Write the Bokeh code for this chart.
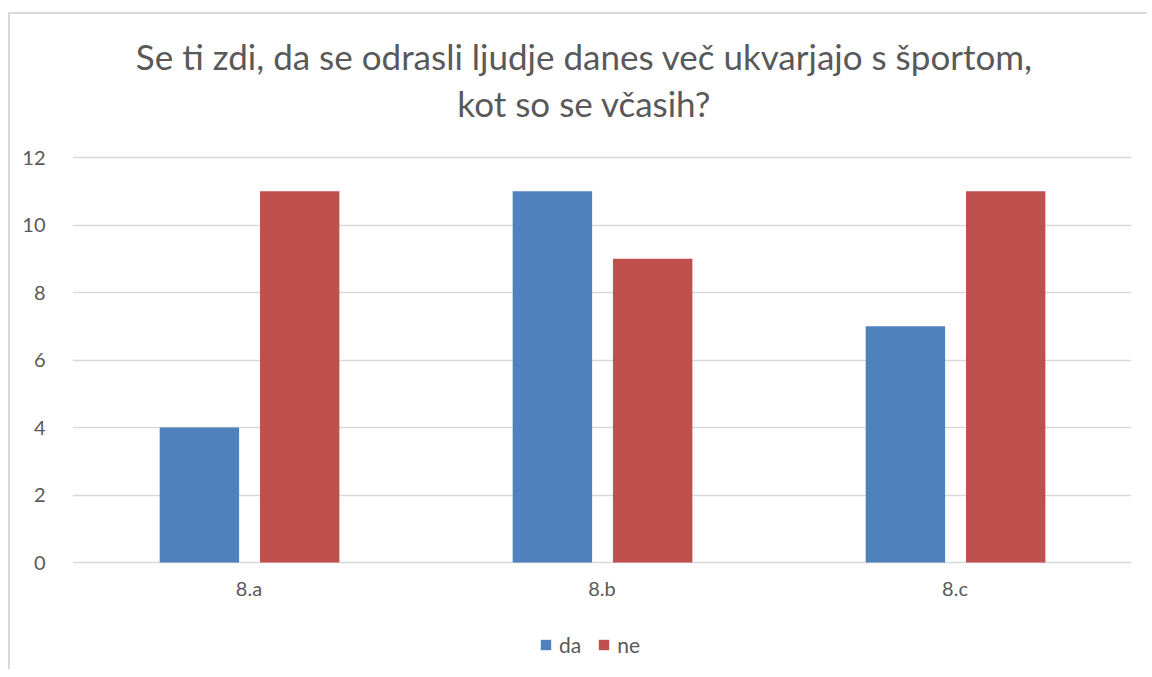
from bokeh.plotting import figure
from bokeh.models import ColumnDataSource, FactorRange, Range1d, FixedTicker, Legend, LegendItem, Label
from bokeh.core.properties import value
from bokeh.transform import dodge
from bokeh.embed import file_html
from bokeh.resources import INLINE

categories = ["8.a", "8.b", "8.c"]
da = [4, 11, 7]
ne = [11, 9, 11]
y_ticks = [0, 2, 4, 6, 8, 10, 12]
title_lines = ["Se ti zdi, da se odrasli ljudje danes več ukvarjajo s športom,", "kot so se včasih?"]
series_names = ["da", "ne"]

TEXT = "#595959"
GRID = "#d9d9d9"
FONT = "Lato"

source = ColumnDataSource(dict(cats=categories, da=da, ne=ne))

# The frame spans the whole chart area so title, category labels and legend are drawn inside it.
p = figure(x_range=FactorRange(*categories), y_range=Range1d(-3.17, 16.237),
           frame_width=1059, frame_height=655, output_backend="svg", toolbar_location=None,
           min_border_left=62, min_border_right=16, min_border_top=0, min_border_bottom=0)
p.styles = {"margin-left": "8px", "margin-top": "12px",
            "border-left": "2px solid #d9d9d9", "border-top": "2px solid #d9d9d9"}
p.title.visible = False
p.outline_line_color = None
p.background_fill_color = "white"
p.border_fill_color = "white"

r1 = p.vbar(x=dodge("cats", -0.1405, range=p.x_range), top="da", width=0.225, source=source,
            fill_color="#4F81BD", line_color=None)
r2 = p.vbar(x=dodge("cats", 0.1436, range=p.x_range), top="ne", width=0.225, source=source,
            fill_color="#C0504D", line_color=None)

p.xgrid.grid_line_color = None
p.ygrid.grid_line_color = GRID
p.ygrid.grid_line_width = 1.3
p.ygrid.ticker = FixedTicker(ticks=y_ticks)
p.yaxis.ticker = FixedTicker(ticks=y_ticks)
p.yaxis.axis_line_color = None
p.yaxis.major_tick_line_color = None
p.yaxis.minor_tick_line_color = None
p.yaxis.major_label_standoff = 21
p.yaxis.major_label_text_font = FONT
p.yaxis.major_label_text_font_size = "20px"
p.yaxis.major_label_text_color = TEXT

p.xaxis.visible = False

# category labels under the baseline
p.text(x="cats", y=-0.77, text="cats", source=source, text_align="center",
       text_baseline="middle", text_font=value(FONT), text_font_size="20px", text_color=TEXT)

for txt, yy in zip(title_lines, [15.0, 13.61]):
    p.add_layout(Label(x=1.45, y=yy, text=txt, text_align="center", text_baseline="alphabetic",
                       text_font=FONT, text_font_size="35px", text_color=TEXT))

legend = Legend(items=[LegendItem(label=series_names[0], renderers=[r1]),
                       LegendItem(label=series_names[1], renderers=[r2])],
                orientation="horizontal", location=(467, 12),
                glyph_width=13, glyph_height=13, label_height=13,
                label_standoff=7, spacing=16, padding=0, margin=0,
                border_line_color=None, background_fill_alpha=0,
                label_text_font=FONT, label_text_font_size="21px", label_text_color=TEXT,
                label_text_baseline="middle")
p.add_layout(legend, "center")

open("out.html", "w").write(file_html(p, INLINE))
